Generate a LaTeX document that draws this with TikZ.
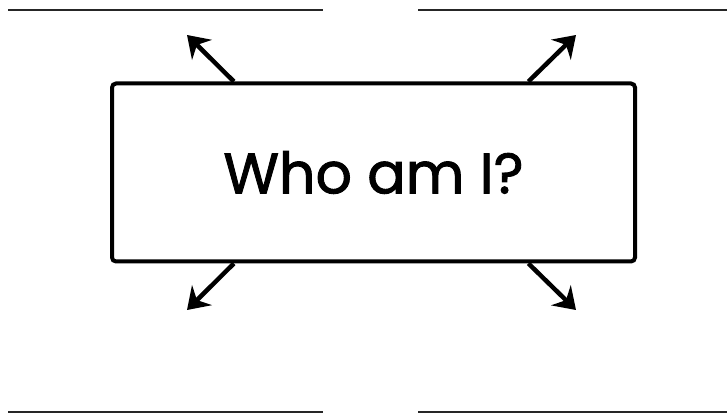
\documentclass[tikz,border=0pt]{standalone}
\usepackage{fontspec}
\setmainfont{Poppins}
\newfontfamily\titlefont[FakeBold=1.6]{Poppins}
\usetikzlibrary{calc}
\usetikzlibrary{arrows.meta}
\tikzset{
  card/.style= {draw, line width=4pt, rounded corners=4pt, minimum width=523pt, minimum height=178pt, inner sep=0pt},
  pointer/.style= {line width=4.5pt, -{Stealth[length=21pt, width=28pt, inset=7pt]}},
  rule/.style= {line width=2pt, draw=black!85},
}

\begin{document}
\begin{tikzpicture}[x=1pt, y=-1pt]
  \useasboundingbox (0,0) rectangle (727,419);

  \node [card] (box) at (373.5,172.5) {\titlefont\fontsize{57}{60}\selectfont Who am I?} ;

  % arrow tips
  \coordinate (nw) at (187,35) ;
  \coordinate (ne) at (576,35) ;
  \coordinate (sw) at (187,310) ;
  \coordinate (se) at (576,310) ;

  \draw [pointer] ($(box.north west)!0.235!(box.north east)$) -- (nw) ;
  \draw [pointer] ($(box.north west)!0.794!(box.north east)$) -- (ne) ;
  \draw [pointer] ($(box.south west)!0.235!(box.south east)$) -- (sw) ;
  \draw [pointer] ($(box.south west)!0.794!(box.south east)$) -- (se) ;

  % writing lines
  \draw [rule] (8,10) -- (323,10) ;
  \draw [rule] (418,10) -- (727,10) ;
  \draw [rule] (8,412) -- (323,412) ;
  \draw [rule] (418,412) -- (727,412) ;
\end{tikzpicture}
\end{document}
